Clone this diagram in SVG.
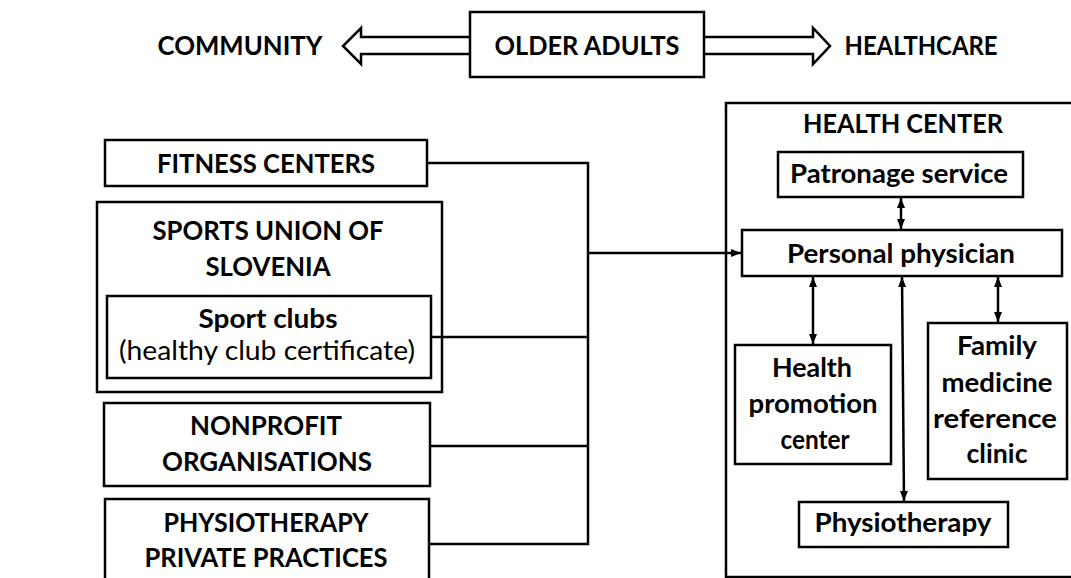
<svg xmlns="http://www.w3.org/2000/svg" width="1071" height="578" viewBox="0 0 1071 578">
<style>
.box{fill:#fff;stroke:#000;stroke-width:2.5}
.ln{fill:none;stroke:#000;stroke-width:2.5}
.t{font-family:Lato,"Open Sans","Liberation Sans",sans-serif;font-weight:bold;font-size:27px;fill:#000;text-anchor:middle}
.r{font-family:Lato,"Open Sans","Liberation Sans",sans-serif;font-weight:normal;font-size:27px;fill:#000;text-anchor:middle}
</style>
<defs>
<marker id="ah" markerUnits="userSpaceOnUse" markerWidth="10" markerHeight="10" viewBox="0 0 10 10" refX="10" refY="5" orient="auto-start-reverse">
<path d="M0,1 L10,5 L0,9 Z" fill="#000"/>
</marker>
</defs>
<rect width="1071" height="578" fill="#fff"/>

<g id="older-adults">
<rect class="box" x="470" y="12" width="234" height="65"/>
<text class="t" x="587" y="55" textLength="185" lengthAdjust="spacingAndGlyphs">OLDER ADULTS</text>
</g>
<g id="community">
<text class="t" x="240" y="55" textLength="165" lengthAdjust="spacingAndGlyphs">COMMUNITY</text>
</g>
<g id="healthcare">
<text class="t" x="921" y="55" textLength="153" lengthAdjust="spacingAndGlyphs">HEALTHCARE</text>
</g>

<g id="fitness-centers">
<rect class="box" x="105" y="140" width="322" height="46"/>
<text class="t" x="266" y="173" textLength="218" lengthAdjust="spacingAndGlyphs">FITNESS CENTERS</text>
</g>
<g id="sports-union">
<rect class="box" x="97" y="202" width="345" height="190"/>
<text class="t" x="268" y="240" textLength="231" lengthAdjust="spacingAndGlyphs">SPORTS UNION OF</text>
<text class="t" x="268" y="276" textLength="125" lengthAdjust="spacingAndGlyphs">SLOVENIA</text>
</g>
<g id="sport-clubs">
<rect class="box" x="107" y="296" width="324" height="82"/>
<text class="t" x="268" y="328" textLength="139" lengthAdjust="spacingAndGlyphs">Sport clubs</text>
<text class="r" x="267" y="360" textLength="296" lengthAdjust="spacingAndGlyphs">(healthy club certificate)</text>
</g>
<g id="nonprofit">
<rect class="box" x="104" y="403" width="326" height="83"/>
<text class="t" x="266" y="435" textLength="152" lengthAdjust="spacingAndGlyphs">NONPROFIT</text>
<text class="t" x="267" y="471" textLength="210" lengthAdjust="spacingAndGlyphs">ORGANISATIONS</text>
</g>
<g id="physio-private">
<rect class="box" x="105" y="499" width="324" height="90"/>
<text class="t" x="266" y="532" textLength="205" lengthAdjust="spacingAndGlyphs">PHYSIOTHERAPY</text>
<text class="t" x="266" y="567" textLength="243" lengthAdjust="spacingAndGlyphs">PRIVATE PRACTICES</text>
</g>

<g id="health-center">
<rect class="box" x="726" y="103" width="350" height="474"/>
<text class="t" x="903" y="133" textLength="200" lengthAdjust="spacingAndGlyphs">HEALTH CENTER</text>
</g>
<g id="patronage">
<rect class="box" x="778" y="152" width="245" height="45"/>
<text class="t" x="899" y="183" textLength="218" lengthAdjust="spacingAndGlyphs">Patronage service</text>
</g>
<g id="personal-physician">
<rect class="box" x="742" y="230" width="320" height="46"/>
<text class="t" x="901" y="263" textLength="228" lengthAdjust="spacingAndGlyphs">Personal physician</text>
</g>
<g id="health-promotion">
<rect class="box" x="735" y="345" width="156" height="119"/>
<text class="t" x="812" y="377" textLength="80" lengthAdjust="spacingAndGlyphs">Health</text>
<text class="t" x="813" y="413" textLength="129" lengthAdjust="spacingAndGlyphs">promotion</text>
<text class="t" x="815" y="449" textLength="69" lengthAdjust="spacingAndGlyphs">center</text>
</g>
<g id="family-medicine">
<rect class="box" x="928" y="323" width="139" height="156"/>
<text class="t" x="997" y="355" textLength="80" lengthAdjust="spacingAndGlyphs">Family</text>
<text class="t" x="997" y="392" textLength="111" lengthAdjust="spacingAndGlyphs">medicine</text>
<text class="t" x="995" y="428" textLength="124" lengthAdjust="spacingAndGlyphs">reference</text>
<text class="t" x="997" y="463" textLength="61" lengthAdjust="spacingAndGlyphs">clinic</text>
</g>
<g id="physiotherapy">
<rect class="box" x="799" y="502" width="209" height="45"/>
<text class="t" x="903" y="532" textLength="177" lengthAdjust="spacingAndGlyphs">Physiotherapy</text>
</g>

<g id="connectors">
<path class="ln" d="M470,37 L361,37 L361,28 L343,46 L361,64 L361,54 L470,54" stroke-linejoin="miter"/>
<path class="ln" d="M704,37 L813,37 L813,28 L830,46 L813,64 L813,54 L704,54" stroke-linejoin="miter"/>
<path class="ln" d="M427,163 L588,163 L588,544 L429,544"/>
<path class="ln" d="M431,337 L588,337"/>
<path class="ln" d="M430,446 L588,446"/>
<path class="ln" d="M588,253 L741,253" marker-end="url(#ah)"/>
<path class="ln" d="M901,198 L901,229" marker-start="url(#ah)" marker-end="url(#ah)"/>
<path class="ln" d="M813,277 L813,344" marker-start="url(#ah)" marker-end="url(#ah)"/>
<path class="ln" d="M902,277 L904,501" marker-start="url(#ah)" marker-end="url(#ah)"/>
<path class="ln" d="M998,277 L998,322" marker-start="url(#ah)" marker-end="url(#ah)"/>
</g>
</svg>
